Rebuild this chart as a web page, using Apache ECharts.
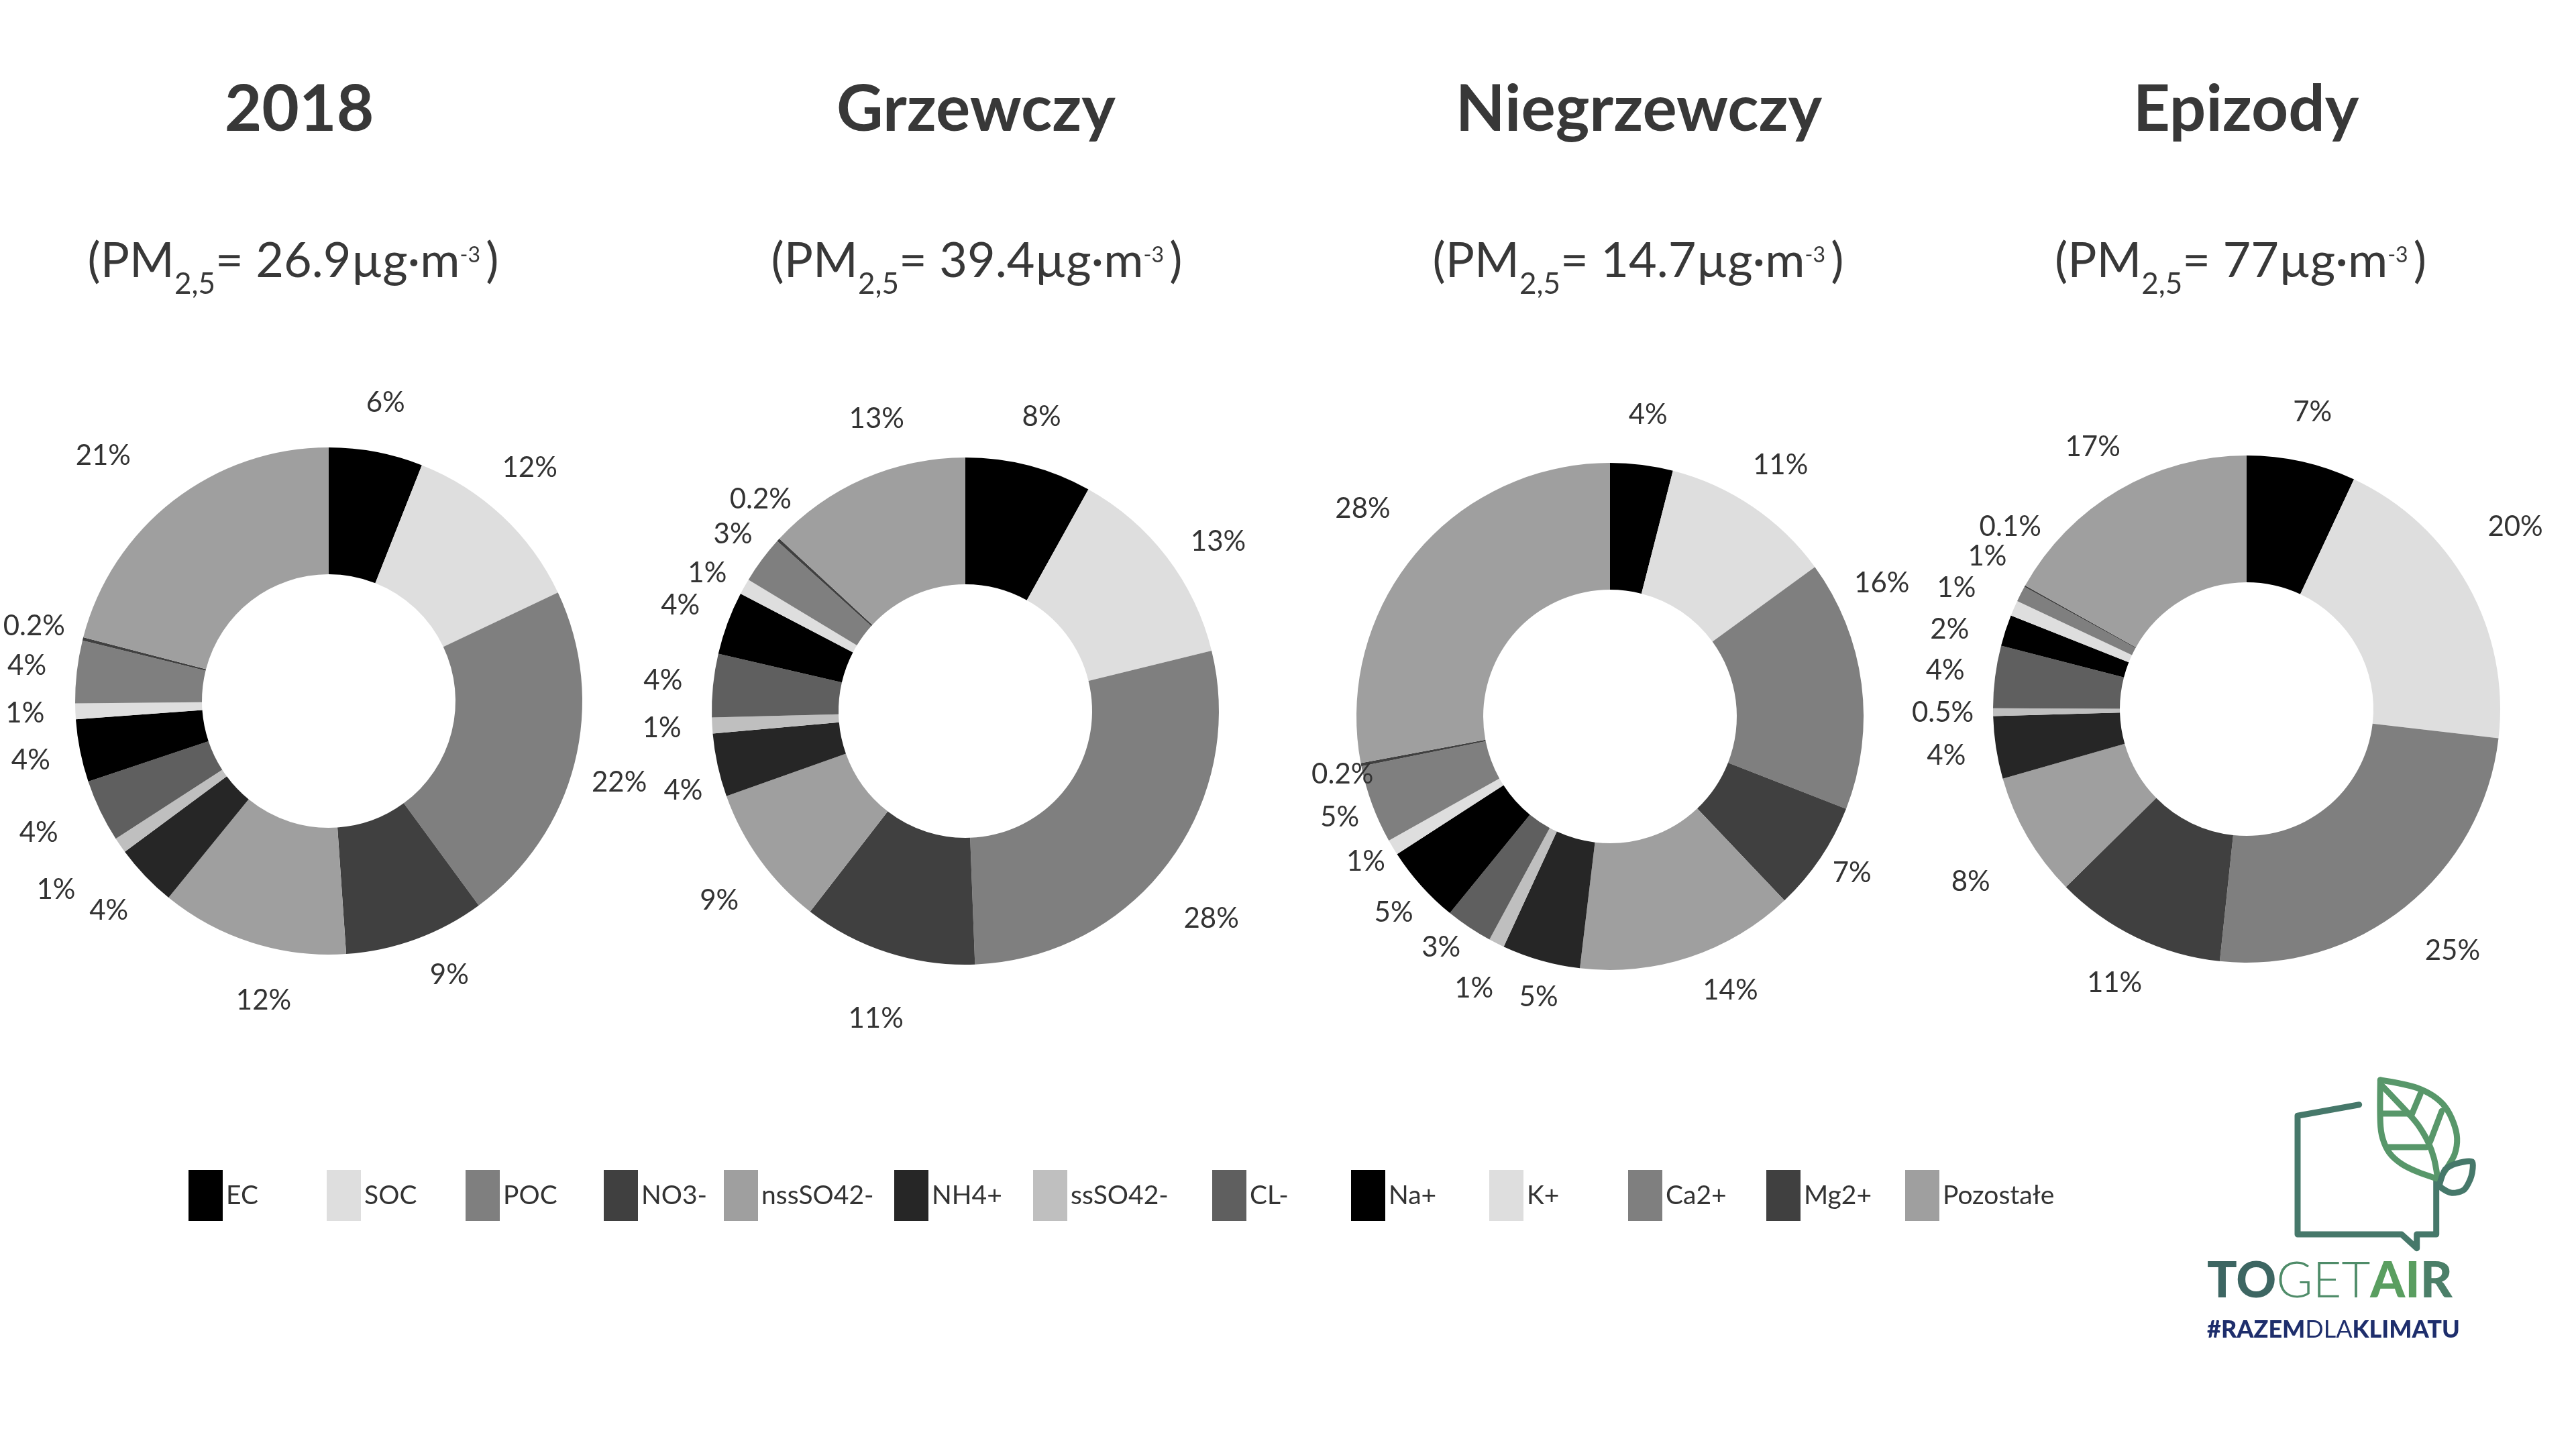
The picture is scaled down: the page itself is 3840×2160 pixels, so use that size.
<!DOCTYPE html>
<html>
<head>
<meta charset="utf-8">
<script src="https://cdn.jsdelivr.net/npm/echarts@6/dist/echarts.min.js"></script>
<style>
html,body{margin:0;padding:0;background:#fff;}
#chart{width:3840px;height:2160px;}
</style>
</head>
<body>
<div id="chart"></div>
<script>
// ---- data ----
const componentNames = ['EC','SOC','POC','NO3-','nssSO42-','NH4+','ssSO42-','CL-','Na+','K+','Ca2+','Mg2+','Pozostałe'];
const values2018 = [6,12,22,9,12,4,1,4,4,1,4,0.2,21];
const valuesGrzewczy = [8,13,28,11,9,4,1,4,4,1,3,0.2,13];
const valuesNiegrzewczy = [4,11,16,7,14,5,1,3,5,1,5,0.2,28];
const valuesEpizody = [7,20,25,11,8,4,0.5,4,2,1,1,0.1,17];
const panelTitles = ['2018','Grzewczy','Niegrzewczy','Epizody'];
const pmValues = ['26.9','39.4','14.7','77'];

// ---- styles / layout ----
const sliceColors = ['#000000','#dedede','#7f7f7f','#404040','#9f9f9f','#262626','#bfbfbf','#5f5f5f','#000000','#dedede','#7f7f7f','#404040','#9f9f9f'];
const panelCenters = [[490,1045],[1439,1060],[2400,1068],[3349,1057]];
const titleX = [446,1455,2443,3348];
const subX = [437,1456,2442,3340];
const legendLeft = [281,487,694,900,1079,1333,1540,1807,2014,2220,2427,2633,2840];
// Excel-like label placement tweaks [dx, dy] per panel, per slice index
const labelNudge = [
  [[0,0],[-10,-17],[-6,10],[24,-17],[40,15],[0,0],[-34,24],[-24,0],[0,0],[0,0],[0,0],[0,0],[-59,-7]],
  [[0,0],[17,22],[5,37],[5,27],[0,17],[22,22],[0,0],[0,0],[0,0],[10,17],[17,7],[29,-10],[49,-20]],
  [[0,0],[0,0],[-44,-140],[-15,-20],[37,-22],[17,-17],[0,0],[0,-32],[15,-10],[24,-17],[22,-7],[46,0],[-20,-20]],
  [[0,0],[5,-51],[24,7],[0,0],[-20,29],[0,0],[0,0],[0,0],[-12,22],[-17,0],[17,-22],[44,-52],[0,0]]
];
const FONT = 'Lato';
const TXT = '#383838';

const allValues = [values2018, valuesGrzewczy, valuesNiegrzewczy, valuesEpizody];

const series = [];
allValues.forEach(function (vals, i) {
  const data = componentNames.map(function (n, k) { return { name: n, value: vals[k] }; });
  series.push({
    type: 'pie',
    center: panelCenters[i],
    radius: [189, 378],
    startAngle: 90,
    clockwise: true,
    silent: true,
    animation: false,
    itemStyle: { borderWidth: 0 },
    label: { show: false },
    labelLine: { show: false },
    emphasis: { disabled: true },
    data: data
  });
});
allValues.forEach(function (vals, i) {
  const data = componentNames.map(function (n, k) { return { name: n, value: vals[k] }; });
  series.push({
    type: 'pie',
    center: panelCenters[i],
    radius: [378, 522],
    startAngle: 90,
    clockwise: true,
    silent: true,
    animation: false,
    itemStyle: { color: 'rgba(0,0,0,0)', borderWidth: 0 },
    label: {
      show: true,
      position: 'inside',
      formatter: '{c}%',
      color: '#333333',
      fontSize: 42,
      fontFamily: FONT
    },
    labelLine: { show: false },
    labelLayout: function (params) {
      const n = labelNudge[i][params.dataIndex] || [0, 0];
      return { dx: n[0], dy: n[1] };
    },
    emphasis: { disabled: true },
    data: data
  });
});

const legends = componentNames.map(function (n, k) {
  return {
    data: [n],
    left: legendLeft[k],
    top: 1744,
    padding: 0,
    icon: 'rect',
    itemWidth: 51,
    itemHeight: 76,
    selectedMode: false,
    textStyle: { fontSize: 39, color: '#333333', fontFamily: FONT }
  };
});

const graphics = [];
panelTitles.forEach(function (t, i) {
  graphics.push({
    type: 'text',
    x: titleX[i], y: 164,
    style: {
      text: t, fontSize: 96, fontWeight: 'bold', fontFamily: FONT, fill: TXT,
      align: 'center', verticalAlign: 'middle', textAlign: 'center', textVerticalAlign: 'middle'
    }
  });
  graphics.push({
    type: 'text',
    x: subX[i], y: 390,
    style: {
      text: '{m|(PM}{s|2,5}{m|= ' + pmValues[i] + 'µg·m}{p|-3 }{m|)}',
      align: 'center', verticalAlign: 'middle', textAlign: 'center', textVerticalAlign: 'middle',
      fontFamily: FONT, fill: TXT,
      rich: {
        m: { fontSize: 72, fontFamily: FONT, fill: TXT },
        s: { fontSize: 44, fontFamily: FONT, fill: TXT, padding: [68, 0, 0, 0] },
        p: { fontSize: 32, fontFamily: FONT, fill: TXT, padding: [0, 0, 18, 0] }
      }
    }
  });
});

// ---- TOGETAIR logo ----
const bubbleColor = '#46786a';
const leafColor = '#58976a';
const lw = 9;
function pl(points, color, smooth) {
  return {
    type: 'polyline',
    shape: { points: points, smooth: smooth || 0 },
    style: { stroke: color, lineWidth: lw, fill: null, lineCap: 'round', lineJoin: 'round' },
    silent: true
  };
}
graphics.push(pl([[3516.7,1646.7],[3425,1663.3],[3425,1840],[3580,1840],[3602.7,1860.7],[3602.7,1840],[3631.7,1840],[3631.7,1756.7]], bubbleColor));
graphics.push(pl([[3548.3,1610],[3548.3,1673.3],[3551.7,1696.7],[3561.7,1718.3],[3580,1735],[3603.3,1746.7],[3631.7,1756.7]], leafColor, 0.3));
graphics.push(pl([[3548.3,1610],[3576.7,1615],[3603.3,1621.7],[3626.7,1633.3],[3645,1650],[3657.3,1673.3],[3662.7,1696.7],[3659.3,1720],[3648.3,1740],[3636.7,1756.7]], leafColor, 0.3));
graphics.push(pl([[3633.3,1753.3],[3628.3,1726.7],[3620,1703.3],[3606.7,1680],[3593.3,1663.3],[3551.7,1619.3]], leafColor, 0.3));
graphics.push(pl([[3551.7,1660],[3593.3,1660]], leafColor));
graphics.push(pl([[3560,1710],[3616.7,1710]], leafColor));
graphics.push(pl([[3595,1661.7],[3608.3,1630]], leafColor));
graphics.push(pl([[3622.7,1701.7],[3640,1656]], leafColor));
graphics.push(pl([[3636.7,1765],[3645,1743.3],[3660,1735],[3685,1731.7],[3684,1753.3],[3673.3,1773.3],[3655,1778.3],[3638.3,1770],[3636.7,1765]], bubbleColor, 0.25));

graphics.push({
  type: 'text', x: 3290, y: 1910,
  style: {
    text: '{a|TO}{b|GET}{c|AI}{d|R}',
    align: 'left', verticalAlign: 'middle', textAlign: 'left', textVerticalAlign: 'middle',
    rich: {
      a: { fontSize: 74, fontWeight: 900, fontFamily: FONT, fill: '#3d6662' },
      b: { fontSize: 74, fontWeight: 300, fontFamily: FONT, fill: '#4f8c69' },
      c: { fontSize: 74, fontWeight: 900, fontFamily: FONT, fill: '#5a9e60' },
      d: { fontSize: 74, fontWeight: 900, fontFamily: FONT, fill: '#4b7f68' }
    }
  }
});
graphics.push({
  type: 'text', x: 3290, y: 1982,
  style: {
    text: '{a|#RAZEM}{b|DLA}{a|KLIMATU}',
    align: 'left', verticalAlign: 'middle', textAlign: 'left', textVerticalAlign: 'middle',
    rich: {
      a: { fontSize: 36, fontWeight: 900, fontFamily: FONT, fill: '#1e2e6c' },
      b: { fontSize: 36, fontWeight: 400, fontFamily: FONT, fill: '#1e2e6c' }
    }
  }
});

const chart = echarts.init(document.getElementById('chart'), null, { renderer: 'canvas' });
chart.setOption({
  backgroundColor: '#ffffff',
  animation: false,
  color: sliceColors,
  textStyle: { fontFamily: FONT },
  legend: legends,
  series: series,
  graphic: { elements: graphics }
});
</script>
</body>
</html>
